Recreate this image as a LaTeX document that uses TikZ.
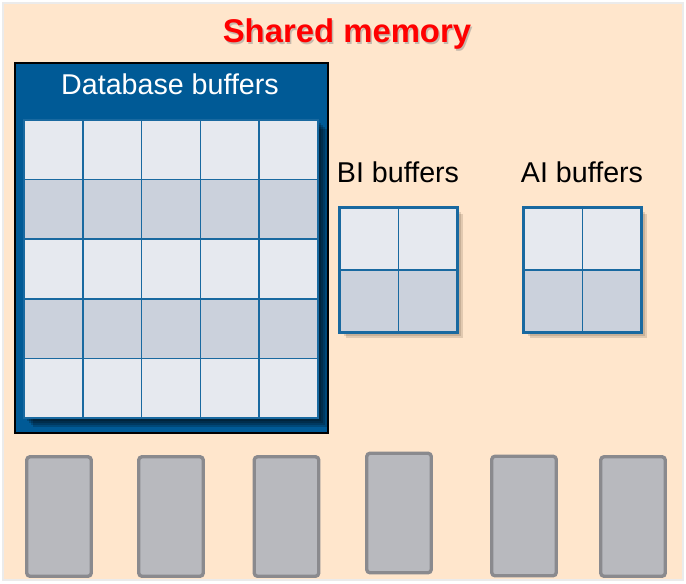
\documentclass[tikz,border=0pt]{standalone}
\usepackage{fontspec}
\setmainfont{Liberation Sans}
\definecolor{peach}{RGB}{255,230,204}
\definecolor{dbblue}{RGB}{0,90,150}
\definecolor{gridblue}{RGB}{25,105,160}
\definecolor{celllight}{RGB}{230,233,239}
\definecolor{celldark}{RGB}{203,209,220}
\definecolor{slotgray}{RGB}{184,185,190}
\definecolor{slotedge}{RGB}{138,138,142}
\definecolor{titlered}{RGB}{255,0,0}
\usetikzlibrary{positioning}

\begin{document}
\begin{tikzpicture}[x=0.02cm, y=-0.02cm,
  heading/.style={font=\fontsize{16.3}{19}\selectfont, inner sep=0pt},
  dbcell/.style={draw=gridblue, line width=0.95pt, minimum width=1.176cm, minimum height=1.192cm, inner sep=0pt},
  bufcell/.style={draw=gridblue, line width=0.95pt, minimum width=1.17cm, minimum height=1.24cm, inner sep=0pt},
  slot/.style={draw=slotedge, fill=slotgray, line width=1.9pt, rounded corners=1.8pt, minimum width=1.29cm, minimum height=2.39cm, inner sep=0pt}
]
  \useasboundingbox (0,0) rectangle (686,583);
  \fill[white] (0,0) rectangle (686,583);
  \filldraw[fill=peach, draw=black!8, line width=0.6pt] (3,3) rectangle (683,580);

  % Title
  \node[font=\fontsize{18.7}{22}\selectfont\bfseries, text=black!45, opacity=0.5] at (348.5,35.5) {Shared memory};
  \node[font=\fontsize{18.7}{22}\selectfont\bfseries, text=titlered] (title) at (347,34) {Shared memory};

  % Database buffers
  \node[draw=black, fill=dbblue, line width=1.2pt, minimum width=6.26cm, minimum height=7.40cm, inner sep=0pt] (db) at (171.5,248) {};
  \node[heading, text=white] (dblabel) at (170,84) {Database buffers};
  \foreach \o in {3,5,7,9}
    \fill[black, opacity=0.2] (24+\o,120+\o) rectangle (318+\o,418+\o);
  \foreach \r/\c in {0/celllight,1/celldark,2/celllight,3/celldark,4/celllight}
    \foreach \k in {0,...,4}
      \node[dbcell, fill=\c] (db-\r-\k) at ({53.4+58.8*\k},{149.8+59.6*\r}) {};

  % BI buffers
  \node[heading] (bilabel) at (398,172) {BI buffers};
  \foreach \o in {2,4,6}
    \fill[black!70!brown, opacity=0.15] (340+\o,208+\o) rectangle (457+\o,332+\o);
  \foreach \r/\c in {0/celllight,1/celldark}
    \foreach \k in {0,1}
      \node[bufcell, fill=\c] (bi-\r-\k) at ({369.25+58.5*\k},{239+62*\r}) {};
  \draw[gridblue, line width=1.4pt] (bi-0-0.north west) rectangle (bi-1-1.south east);

  % AI buffers
  \node[heading] (ailabel) at (582,172) {AI buffers};
  \foreach \o in {2,4,6}
    \fill[black!70!brown, opacity=0.15] (524+\o,208+\o) rectangle (641+\o,332+\o);
  \foreach \r/\c in {0/celllight,1/celldark}
    \foreach \k in {0,1}
      \node[bufcell, fill=\c] (ai-\r-\k) at ({553.25+58.5*\k},{239+62*\r}) {};
  \draw[gridblue, line width=1.4pt] (ai-0-0.north west) rectangle (ai-1-1.south east);

  % Slots
  \node[slot] (s1) at (59,516.5) {};
  \node[slot] (s2) at (171,516.5) {};
  \node[slot] (s3) at (286.5,516.5) {};
  \node[slot] (s4) at (399,513) {};
  \node[slot] (s5) at (524,516) {};
  \node[slot] (s6) at (633,516.5) {};
\end{tikzpicture}
\end{document}
